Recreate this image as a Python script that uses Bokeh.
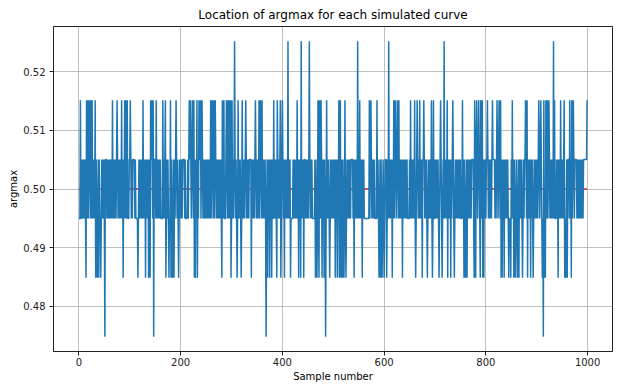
from bokeh.plotting import figure
from bokeh.models import Range1d, FixedTicker, PrintfTickFormatter
from bokeh.embed import file_html
from bokeh.resources import INLINE

# ---- data ----
# possible argmax values (grid positions)
levels = [0.474747, 0.484848, 0.494949, 0.505051, 0.515152, 0.525253]

# baseline: level code (2 -> 0.4949, 3 -> 0.5051) per sample, 100 samples per row
baseline_rows = [
    "2222223232 3232323232 3232323232 3232323232 3222232323 2333323232 3232323232 3232323232 3232323232 3232322223",
    "3232323333 2322223232 3232323232 3232323232 3232323333 3232323232 3222232323 2323232222 3232323232 3232323232",
    "3232333323 2222323232 3232323232 3232323333 2323232323 2323232323 2323232323 2323232323 2323222223 2323232323",
    "2323232323 2323232323 2323232323 2323233332 3232323232 3232323232 3232323232 3232323232 3222232323 2323232323",
    "2323232323 2323232222 2323232323 2323232323 2333323232 3232323232 2222323232 3232323333 2323232323 2323232323",
    "2323232323 2323232323 2323232323 2323233332 3232323232 3232323232 3222222222 2323232323 2322223232 3232323232",
    "3233332323 2323232323 2323232323 2323232323 2323232222 3232323232 3232323232 3232323333 2323232323 2323232222",
    "3232323232 3232323232 3232323232 3232323232 3232323232 3222223232 3232323232 3233332323 2323232323 2323232323",
    "2333323232 3232333323 2323232323 2323232323 2323232222 3232323232 3232323232 3232323333 2323232323 2323232323",
    "2323232323 2323232323 2323232323 2323222223 2323232323 2323232323 3333232323 2323233332 3232323232 3233333333",
]

# samples that jump away from the 0.495/0.505 band
idx_0525 = [306, 411, 437, 453, 548, 609, 718, 933]
idx_0515 = [3, 15, 18, 21, 24, 26, 32, 66, 75, 84, 90, 92, 95, 101, 126, 141, 143, 146,
            152, 165, 170, 180, 191, 217, 219, 223, 226, 232, 236, 239, 242, 259, 262,
            265, 268, 282, 285, 290, 293, 295, 298, 301, 313, 321, 328, 347, 354, 357,
            360, 383, 390, 396, 400, 429, 470, 473, 476, 487, 511, 514, 523, 552, 571,
            574, 586, 619, 622, 626, 629, 652, 660, 665, 670, 678, 693, 697, 711, 724,
            735, 754, 778, 782, 786, 790, 793, 803, 813, 822, 826, 829, 852, 878, 881,
            904, 908, 914, 918, 921, 924, 935, 947, 954, 965, 969, 972, 999]
idx_0485 = [14, 33, 36, 39, 43, 87, 116, 131, 137, 140, 171, 177, 181, 184, 187, 196, 227,
            229, 233, 281, 299, 311, 319, 339, 371, 375, 379, 389, 397, 404, 416, 432, 436,
            442, 465, 468, 472, 478, 482, 493, 504, 508, 512, 515, 518, 521, 525, 541, 557,
            590, 593, 596, 600, 605, 616, 636, 662, 675, 685, 695, 708, 714, 725, 731, 738,
            757, 760, 763, 777, 780, 789, 794, 796, 830, 832, 836, 845, 849, 855, 858, 862,
            865, 872, 882, 888, 893, 911, 915, 917, 942, 955, 957, 960, 968]
idx_0475 = [51, 147, 368, 485, 913]

true_value = 0.5
n_samples = 1000

# ---- build series ----
codes = [int(c) for c in "".join(baseline_rows).replace(" ", "")]
codes = (codes + [codes[-1]] * n_samples)[:n_samples]
for i in idx_0525:
    codes[i] = 5
for i in idx_0515:
    codes[i] = 4
for i in idx_0485:
    codes[i] = 1
for i in idx_0475:
    codes[i] = 0
samples = list(range(n_samples))
argmax = [levels[c] for c in codes]

# ---- figure ----
p = figure(width=618, height=389, output_backend="svg", toolbar_location=None,
           x_range=Range1d(-49.95, 1048.95), y_range=Range1d(0.472225, 0.527775),
           min_border_left=53, min_border_right=6, min_border_top=26, min_border_bottom=38,
           title="Location of argmax for each simulated curve")
p.background_fill_color = "white"
p.border_fill_color = "white"
p.outline_line_color = "#222222"
p.outline_line_width = 1

p.title.align = "center"
p.title.text_font = "DejaVu Sans"
p.title.text_font_size = "12px"
p.title.text_font_style = "normal"
p.title.text_color = "#000000"
p.title.standoff = 9
p.title.offset = 0

p.line(x=[samples[0], samples[-1]], y=[true_value, true_value], line_color="#d62728", line_width=1.5)
p.line(x=samples, y=argmax, line_color="#1f77b4", line_width=1.5)

p.xaxis.ticker = FixedTicker(ticks=[0, 200, 400, 600, 800, 1000])
p.yaxis.ticker = FixedTicker(ticks=[0.48, 0.49, 0.50, 0.51, 0.52])
p.yaxis.formatter = PrintfTickFormatter(format="%.2f")
p.xaxis.axis_label = "Sample number"
p.yaxis.axis_label = "argmax"

for ax in (p.xaxis, p.yaxis):
    ax.axis_label_text_font = "DejaVu Sans"
    ax.axis_label_text_font_size = "10px"
    ax.axis_label_text_font_style = "normal"
    ax.axis_label_text_color = "#000000"
    ax.major_label_text_font = "DejaVu Sans"
    ax.major_label_text_font_size = "10px"
    ax.major_label_text_color = "#222222"
    ax.axis_line_color = "#222222"
    ax.major_tick_line_color = "#222222"
    ax.major_tick_out = 4
    ax.major_tick_in = 0
    ax.minor_tick_line_color = None

p.xaxis.major_label_standoff = 2
p.xaxis.axis_label_standoff = 2
p.yaxis.major_label_standoff = 4
p.yaxis.axis_label_standoff = 1

p.grid.grid_line_color = "#b0b0b0"
p.grid.grid_line_width = 0.8

open("out.html", "w").write(file_html(p, INLINE))
